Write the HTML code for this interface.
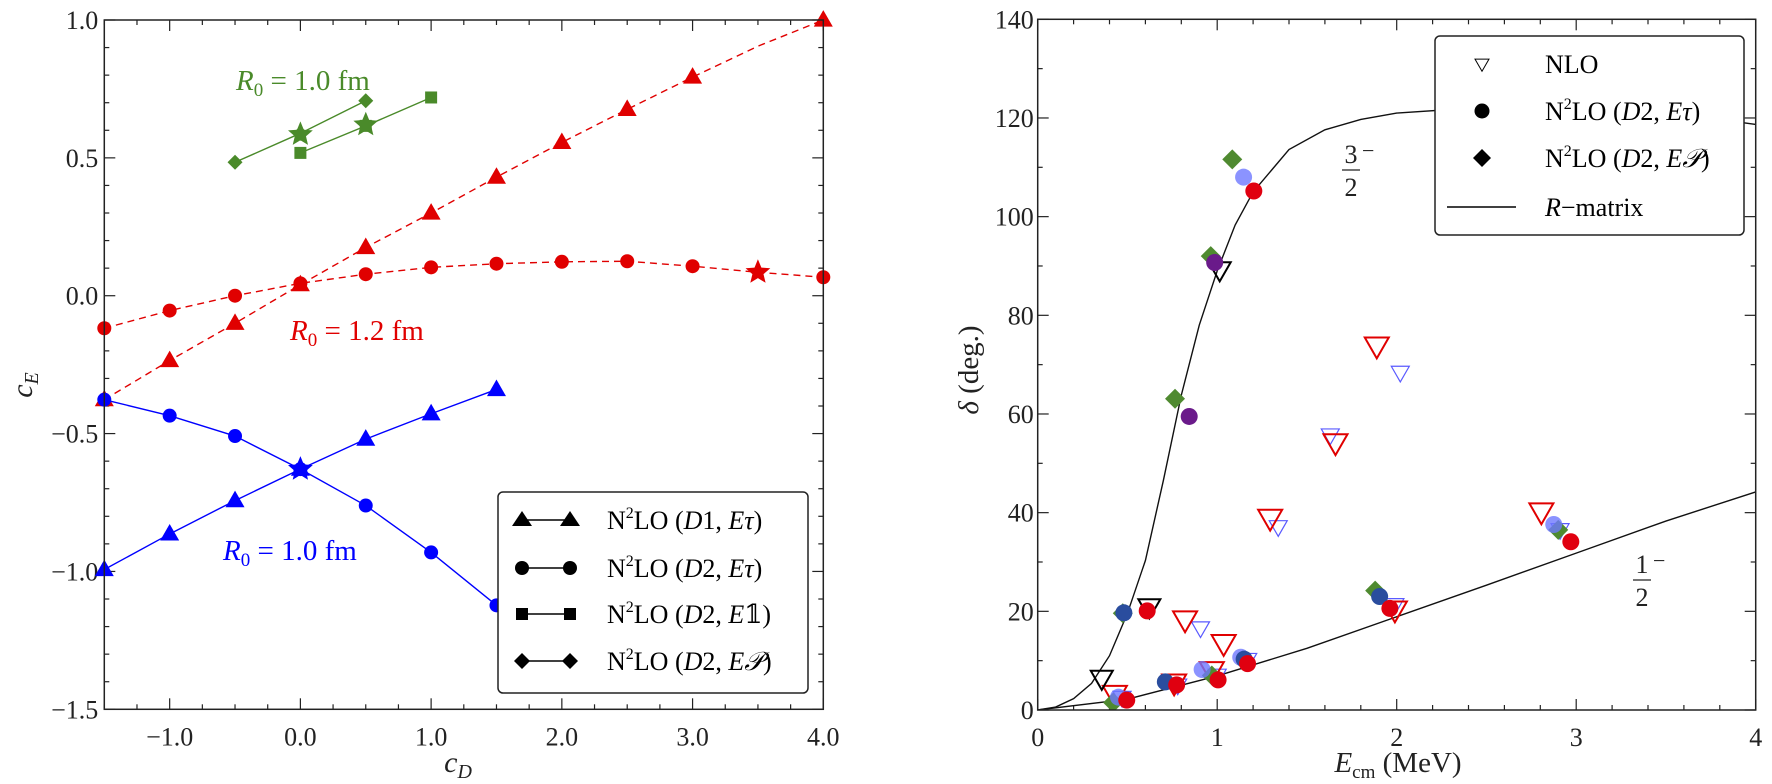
<!DOCTYPE html>
<html><head><meta charset="utf-8"><style>
html,body{margin:0;padding:0;background:#fff;}
svg{display:block;font-family:"Liberation Serif","DejaVu Serif",serif;}
</style></head><body>
<svg id="fig" width="1772" height="784" viewBox="0 0 1772 784" xmlns="http://www.w3.org/2000/svg">
<rect width="1772" height="784" fill="#fff"/>
<g id="left"></g>
<g id="right"></g>
</svg>
<script>
// ---------- LEFT CHART DATA ----------
const cdGrid = [-1.5,-1.0,-0.5,0.0,0.5,1.0,1.5,2.0,2.5,3.0,3.5,4.0];
const redTriCE = [-0.377,-0.235,-0.10,0.04,0.175,0.30,0.43,0.556,0.676,0.793,0.905,1.0];
const redCircCE = [-0.118,-0.054,0.0,0.045,0.078,0.103,0.116,0.123,0.125,0.107,0.085,0.067];
const blueCD = [-1.5,-1.0,-0.5,0.0,0.5,1.0,1.5];
const blueTriCE = [-0.993,-0.864,-0.743,-0.629,-0.52,-0.428,-0.34];
const blueCircCE = [-0.377,-0.435,-0.509,-0.629,-0.761,-0.931,-1.123];
const greenSqCD = [0.0,0.5,1.0];
const greenSqCE = [0.518,0.616,0.719];
const greenDiaCD = [-0.5,0.0,0.5];
const greenDiaCE = [0.484,0.589,0.707];
const starCD = [3.5,0.0,0.0,0.5];
const starCE = [0.085,-0.629,0.585,0.62];
const starColor = ["#e00000","#0000ff","#4a8a2a","#4a8a2a"];
const leftXTicks = [-1.0,0.0,1.0,2.0,3.0,4.0];
const leftXTickLabels = ["−1.0","0.0","1.0","2.0","3.0","4.0"];
const leftYTicks = [1.0,0.5,0.0,-0.5,-1.0,-1.5];
const leftYTickLabels = ["1.0","0.5","0.0","−0.5","−1.0","−1.5"];

// ---------- RIGHT CHART DATA ----------
const rm32E = [0,0.1,0.2,0.3,0.4,0.5,0.6,0.7,0.8,0.9,1.0,1.1,1.2,1.4,1.6,1.8,2.0,2.5,3.0,3.5,4.0];
const rm32D = [0,0.6,2.3,5.4,11,19.6,30.3,46.5,63.8,78,89,98.3,105,113.6,117.6,119.7,121,122.2,122.2,121.2,118.7];
const rm12E = [0,0.5,1.0,1.5,2.0,2.5,3.0,3.5,4.0];
const rm12D = [0,2.2,6.9,12.5,18.9,25.3,31.8,38.3,44.2];
const nloE = [2.02,1.63,1.34,0.907,2.91,1.99,1.17,1.0,0.78,0.47];
const nloD = [68.4,55.7,37.1,16.6,36.5,21.3,10.2,7.0,5.0,2.5];
const redTriE = [1.889,1.659,1.295,0.821,1.036,2.806,1.99,0.97,0.76,0.43];
const redTriD = [73.8,54.2,38.9,18.3,13.5,40.2,20.3,8.0,5.5,3.2];
const blackTriE = [0.357,0.622,1.014];
const blackTriD = [6.4,20.9,89.2];
const greenDiaE = [0.474,0.765,0.964,1.084,1.88,0.97,0.42,2.9];
const greenDiaD = [19.6,63.1,92,111.6,24.2,7.0,1.5,36.5];
const lightCircE = [1.147,2.875,1.131,0.916,0.45];
const lightCircD = [108,37.6,10.7,8.2,2.6];
const darkCircE = [0.48,1.905,1.15,0.711];
const darkCircD = [19.7,23.0,10.3,5.7];
const purpleCircE = [0.844,0.986];
const purpleCircD = [59.5,90.7];
const redCircE = [0.61,1.204,2.97,1.962,1.169,1.005,0.774,0.496];
const redCircD = [20.1,105.2,34.1,20.6,9.4,6.1,5.1,2.0];
const rightXTicks = [0,1,2,3,4];
const rightXTickLabels = ["0","1","2","3","4"];
const rightYTicks = [0,20,40,60,80,100,120,140];
const rightYTickLabels = ["0","20","40","60","80","100","120","140"];

const NS="http://www.w3.org/2000/svg";
function mk(parent, tag, attrs){const e=document.createElementNS(NS,tag);for(const k in attrs)e.setAttribute(k,attrs[k]);parent.appendChild(e);return e;}

const L={x0:104.3,x1:823.3,y0:20,y1:709.3};
function lx(v){return L.x0+(v+1.5)*(L.x1-L.x0)/5.5;}
function ly(v){return L.y0+(1-v)*(L.y1-L.y0)/2.5;}
const R={x0:1037.7,x1:1755.7,y0:19.3,y1:710};
function rx(v){return R.x0+v*(R.x1-R.x0)/4;}
function ry(v){return R.y1-v*(R.y1-R.y0)/140;}

function triPts(cx,cy,s,up){const h=s*0.87;return up?`${cx},${cy-h*0.6} ${cx-s/2},${cy+h*0.4} ${cx+s/2},${cy+h*0.4}`:`${cx},${cy+h*0.6} ${cx-s/2},${cy-h*0.4} ${cx+s/2},${cy-h*0.4}`;}
function diaPts(cx,cy,s){return `${cx},${cy-s/2} ${cx+s/2},${cy} ${cx},${cy+s/2} ${cx-s/2},${cy}`;}
function starPts(cx,cy,r){let p=[];for(let i=0;i<10;i++){const a=-Math.PI/2+i*Math.PI/5;const rr=i%2?r*0.45:r;p.push((cx+rr*Math.cos(a)).toFixed(1)+","+(cy+rr*Math.sin(a)).toFixed(1));}return p.join(" ");}
function poly(g,xs,ys,fx,fy,color,dash,name){const p=mk(g,'polyline',{points:xs.map((v,i)=>fx(v)+","+fy(ys[i])).join(" "),fill:'none',stroke:color,'stroke-width':1.4});if(dash)p.setAttribute('stroke-dasharray',dash);
 
 return p;}

// ================= LEFT =================
const lg=document.getElementById('left');
const ticksL=mk(lg,'g',{stroke:'#222','stroke-width':1.2});


for(let i=0;i<=22;i++){const v=-1.5+i*0.25;const x=lx(v);const major=Math.abs(v-Math.round(v))<1e-6;const len=major?11:5;
 mk(ticksL,'line',{x1:x,y1:L.y1,x2:x,y2:L.y1-len});mk(ticksL,'line',{x1:x,y1:L.y0,x2:x,y2:L.y0+len});}
for(let i=0;i<=25;i++){const v=-1.5+i*0.1;const y=ly(v);const major=Math.abs(v*2-Math.round(v*2))<1e-6;const len=major?11:5;
 mk(ticksL,'line',{x1:L.x0,y1:y,x2:L.x0+len,y2:y});mk(ticksL,'line',{x1:L.x1,y1:y,x2:L.x1-len,y2:y});}
leftXTicks.forEach((v,i)=>{const t=mk(lg,'text',{x:lx(v),y:L.y1+36,'text-anchor':'middle','font-size':26,fill:'#222'});t.textContent=leftXTickLabels[i];
 
 });
leftYTicks.forEach((v,i)=>{const t=mk(lg,'text',{x:L.x0-6,y:ly(v)+9,'text-anchor':'end','font-size':26,fill:'#222'});t.textContent=leftYTickLabels[i];
 
 });
const defs=mk(document.getElementById('fig'),'defs',{});
const cp=mk(defs,'clipPath',{id:'clipL'});mk(cp,'rect',{x:L.x0,y:L.y0,width:L.x1-L.x0,height:L.y1-L.y0});
const cp2=mk(defs,'clipPath',{id:'clipR'});mk(cp2,'rect',{x:R.x0,y:R.y0,width:R.x1-R.x0,height:R.y1-R.y0});
const dl=mk(lg,'g',{'clip-path':'url(#clipL)'});
poly(dl,cdGrid,redTriCE,lx,ly,'#e00000','7,5','red-triangle-line');
poly(dl,cdGrid,redCircCE,lx,ly,'#e00000','7,5','red-circle-line');
poly(dl,blueCD,blueTriCE,lx,ly,'#0000ff',null,'blue-triangle-line');
poly(dl,blueCD,blueCircCE,lx,ly,'#0000ff',null,'blue-circle-line');
poly(dl,greenSqCD,greenSqCE,lx,ly,'#4a8a2a',null,'green-square-line');
poly(dl,greenDiaCD,greenDiaCE,lx,ly,'#4a8a2a',null,'green-diamond-line');
const ml=mk(lg,'g',{});
cdGrid.forEach((v,i)=>{if(v===3.5)return;const p=mk(ml,'polygon',{points:triPts(lx(v),ly(redTriCE[i]),19,true),fill:'#e00000'});
 
 });
cdGrid.forEach((v,i)=>{if(v===3.5)return;const c=mk(ml,'circle',{cx:lx(v),cy:ly(redCircCE[i]),r:7,fill:'#e00000'});
 
 });
blueCD.forEach((v,i)=>{const p=mk(ml,'polygon',{points:triPts(lx(v),ly(blueTriCE[i]),19,true),fill:'#0000ff'});
 
 });
blueCD.forEach((v,i)=>{const c=mk(ml,'circle',{cx:lx(v),cy:ly(blueCircCE[i]),r:7,fill:'#0000ff'});
 
 });
greenSqCD.forEach((v,i)=>{const r=mk(ml,'rect',{x:lx(v)-6,y:ly(greenSqCE[i])-6,width:12,height:12,fill:'#4a8a2a'});
 
 });
greenDiaCD.forEach((v,i)=>{const p=mk(ml,'polygon',{points:diaPts(lx(v),ly(greenDiaCE[i]),15),fill:'#4a8a2a'});
 
 });
starCD.forEach((v,i)=>{const p=mk(ml,'polygon',{points:starPts(lx(v),ly(starCE[i]),13),fill:starColor[i]});
 
 });
const fl=mk(lg,'rect',{x:L.x0,y:L.y0,width:L.x1-L.x0,height:L.y1-L.y0,fill:'none',stroke:'#222','stroke-width':1.5});


</script>
<script>
(function(){
const lg=document.getElementById('left');
lg.insertAdjacentHTML('beforeend',`
<text x="236" y="90" font-size="29" fill="#4a8a2a"><tspan font-style="italic">R</tspan><tspan font-size="19" dy="6">0</tspan><tspan dy="-6"> = 1.0 fm</tspan></text>
<text x="290" y="340" font-size="29" fill="#e00000"><tspan font-style="italic">R</tspan><tspan font-size="19" dy="6">0</tspan><tspan dy="-6"> = 1.2 fm</tspan></text>
<text x="223" y="560" font-size="29" fill="#0000ff"><tspan font-style="italic">R</tspan><tspan font-size="19" dy="6">0</tspan><tspan dy="-6"> = 1.0 fm</tspan></text>
<text transform="translate(32,385) rotate(-90)" text-anchor="middle" font-size="30" font-style="italic" fill="#222">c<tspan font-size="20" dy="6">E</tspan></text>
<text x="458" y="772" text-anchor="middle" font-size="30" font-style="italic" fill="#222">c<tspan font-size="20" dy="6">D</tspan></text>
<g>
<rect x="498" y="492" width="310" height="201" rx="5" fill="#fff" stroke="#222" stroke-width="1.5"/>
<g><line x1="522" y1="520" x2="570" y2="520" stroke="#000" stroke-width="1.4"/><polygon points="522,511 512,526 532,526" fill="#000"/><polygon points="570,511 560,526 580,526" fill="#000"/>
<text x="607" y="529" font-size="26">N<tspan font-size="16" dy="-11">2</tspan><tspan dy="11">LO (</tspan><tspan font-style="italic">D</tspan>1, <tspan font-style="italic">Eτ</tspan>)</text></g>
<g><line x1="522" y1="568" x2="570" y2="568" stroke="#000" stroke-width="1.4"/><circle cx="522" cy="568" r="7"/><circle cx="570" cy="568" r="7"/>
<text x="607" y="577" font-size="26">N<tspan font-size="16" dy="-11">2</tspan><tspan dy="11">LO (</tspan><tspan font-style="italic">D</tspan>2, <tspan font-style="italic">Eτ</tspan>)</text></g>
<g><line x1="522" y1="614" x2="570" y2="614" stroke="#000" stroke-width="1.4"/><rect x="516" y="608" width="12" height="12"/><rect x="564" y="608" width="12" height="12"/>
<text x="607" y="623" font-size="26">N<tspan font-size="16" dy="-11">2</tspan><tspan dy="11">LO (</tspan><tspan font-style="italic">D</tspan>2, <tspan font-style="italic">E</tspan>𝟙)</text></g>
<g><line x1="522" y1="661" x2="570" y2="661" stroke="#000" stroke-width="1.4"/><polygon points="522,653 530,661 522,669 514,661"/><polygon points="570,653 578,661 570,669 562,661"/>
<text x="607" y="670" font-size="26">N<tspan font-size="16" dy="-11">2</tspan><tspan dy="11">LO (</tspan><tspan font-style="italic">D</tspan>2, <tspan font-style="italic">E𝒫</tspan>)</text></g>
</g>`);
})();
</script>
<script>
(function(){
const rg=document.getElementById('right');
const ticksR=mk(rg,'g',{stroke:'#222','stroke-width':1.2});


for(let i=0;i<=20;i++){const v=i*0.2;const x=rx(v);const major=i%5===0;const len=major?11:5;
 mk(ticksR,'line',{x1:x,y1:R.y1,x2:x,y2:R.y1-len});mk(ticksR,'line',{x1:x,y1:R.y0,x2:x,y2:R.y0+len});}
for(let i=0;i<=14;i++){const v=i*10;const y=ry(v);const major=i%2===0;const len=major?11:5;
 mk(ticksR,'line',{x1:R.x0,y1:y,x2:R.x0+len,y2:y});mk(ticksR,'line',{x1:R.x1,y1:y,x2:R.x1-len,y2:y});}
rightXTicks.forEach((v,i)=>{const t=mk(rg,'text',{x:rx(v),y:R.y1+36,'text-anchor':'middle','font-size':26,fill:'#222'});t.textContent=rightXTickLabels[i];
 
 });
rightYTicks.forEach((v,i)=>{const t=mk(rg,'text',{x:R.x0-4,y:ry(v)+9,'text-anchor':'end','font-size':26,fill:'#222'});t.textContent=rightYTickLabels[i];
 
 });
const dr=mk(rg,'g',{'clip-path':'url(#clipR)'});
poly(dr,rm32E,rm32D,rx,ry,'#111',null,'r-matrix-3-2-curve');
poly(dr,rm12E,rm12D,rx,ry,'#111',null,'r-matrix-1-2-curve');
function triSeries(E,D,size,stroke,sw,name){E.forEach((v,i)=>{const p=mk(dr,'polygon',{points:triPts(rx(v),ry(D[i]),size,false),fill:'none',stroke:stroke,'stroke-width':sw});
 
 });}
function circSeries(E,D,fill,name){E.forEach((v,i)=>{const c=mk(dr,'circle',{cx:rx(v),cy:ry(D[i]),r:8.5,fill:fill});
 
 });}
triSeries(nloE,nloD,18,'#5a5aff',1.2,'nlo-blue-triangle');
triSeries(redTriE,redTriD,24,'#e00000',2,'nlo-red-triangle');
triSeries(blackTriE,blackTriD,22,'#000',2,'nlo-black-triangle');
greenDiaE.forEach((v,i)=>{const p=mk(dr,'polygon',{points:diaPts(rx(v),ry(greenDiaD[i]),20),fill:'#4f8a30'});
 
 });
circSeries(lightCircE,lightCircD,'rgba(110,120,255,0.8)','light-blue-circle');
circSeries(darkCircE,darkCircD,'#2a4d9e','dark-blue-circle');
circSeries(purpleCircE,purpleCircD,'#6a1a8a','purple-circle');
circSeries(redCircE,redCircD,'#e00010','red-circle');
const fr=mk(rg,'rect',{x:R.x0,y:R.y0,width:R.x1-R.x0,height:R.y1-R.y0,fill:'none',stroke:'#222','stroke-width':1.5});


rg.insertAdjacentHTML('beforeend',`
<g font-size="26" fill="#222">
<text x="1351" y="163" text-anchor="middle">3</text><line x1="1342" y1="170" x2="1360" y2="170" stroke="#222" stroke-width="1.3"/><text x="1351" y="196" text-anchor="middle">2</text><text x="1362" y="158" font-size="22">−</text></g>
<g font-size="26" fill="#222">
<text x="1642" y="573" text-anchor="middle">1</text><line x1="1633" y1="580" x2="1651" y2="580" stroke="#222" stroke-width="1.3"/><text x="1642" y="606" text-anchor="middle">2</text><text x="1653" y="568" font-size="22">−</text></g>
<text transform="translate(978,370) rotate(-90)" text-anchor="middle" font-size="29" fill="#222"><tspan font-style="italic">δ</tspan> (deg.)</text>
<text x="1398" y="772" text-anchor="middle" font-size="29" fill="#222"><tspan font-style="italic">E</tspan><tspan font-size="19" dy="6">cm</tspan><tspan dy="-6"> (MeV)</tspan></text>
<g>
<rect x="1435" y="36" width="309" height="199" rx="5" fill="#fff" stroke="#222" stroke-width="1.5"/>
<g><polygon points="${triPts(1482,64,14,false)}" fill="none" stroke="#000" stroke-width="1"/><text x="1545" y="73" font-size="26">NLO</text></g>
<g><circle cx="1482" cy="111" r="7.5"/><text x="1545" y="120" font-size="26">N<tspan font-size="16" dy="-11">2</tspan><tspan dy="11">LO (</tspan><tspan font-style="italic">D</tspan>2, <tspan font-style="italic">Eτ</tspan>)</text></g>
<g><polygon points="${diaPts(1482,158,18)}"/><text x="1545" y="167" font-size="26">N<tspan font-size="16" dy="-11">2</tspan><tspan dy="11">LO (</tspan><tspan font-style="italic">D</tspan>2, <tspan font-style="italic">E𝒫</tspan>)</text></g>
<g><line x1="1447" y1="207" x2="1516" y2="207" stroke="#000" stroke-width="1.4"/><text x="1545" y="216" font-size="26"><tspan font-style="italic">R</tspan>−matrix</text></g>
</g>`);
})();
</script>
</body></html>
